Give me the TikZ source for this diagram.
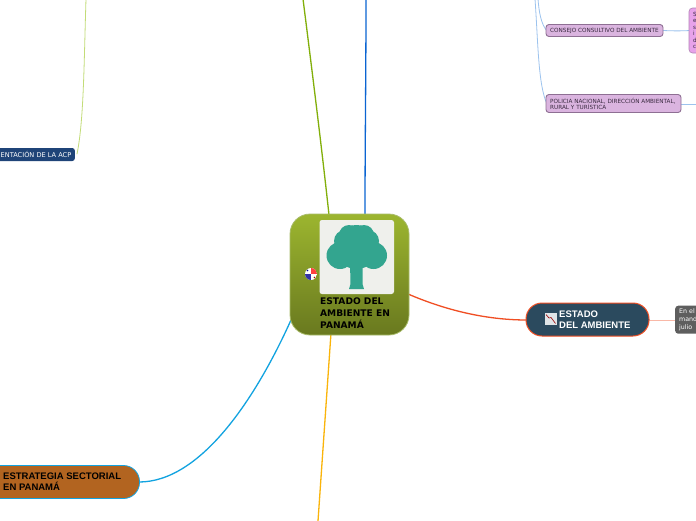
\documentclass[tikz,border=0pt]{standalone}
\usepackage{fontspec}
\setmainfont{Liberation Sans}
\newfontfamily\widefont{DejaVu Sans}
\usetikzlibrary{shadings}
\definecolor{rootTop}{HTML}{9CB52F}
\definecolor{rootBot}{HTML}{69791F}
\definecolor{rootEdge}{HTML}{A9BC6B}
\definecolor{leafTeal}{HTML}{33A58F}
\definecolor{panelBg}{HTML}{EFF0EC}
\definecolor{navy}{HTML}{2B4A5E}
\definecolor{orangeRed}{HTML}{F04E23}
\definecolor{brownBox}{HTML}{B26420}
\definecolor{skyEdge}{HTML}{12A3E0}
\definecolor{lilac}{HTML}{DAB4DF}
\definecolor{lilacEdge}{HTML}{8E6F93}
\definecolor{pinkBox}{HTML}{E7A2EA}
\definecolor{linkBlue}{HTML}{9CC3EE}
\definecolor{acpBlue}{HTML}{1F4478}
\definecolor{greyBox}{HTML}{5E5E5E}
\definecolor{plumText}{HTML}{3A2A40}
\definecolor{linkGreen}{HTML}{82AF0A}
\definecolor{linkBlueDark}{HTML}{0A64D2}
\definecolor{linkGold}{HTML}{FAB40A}
\definecolor{linkLime}{HTML}{C3DC78}
\tikzset{
 x=1pt,y=-1pt,
 link/.style={line width=#1,line cap=round},
 link/.default=1.3pt,
 lilacbox/.style={rounded corners=3pt,draw=lilacEdge,fill=lilac,line width=0.9pt},
 tinytext/.style={font=\widefont\fontsize{5.7}{6}\selectfont,text=plumText,align=left,inner sep=0pt,anchor=west},
 pilllabel/.style={font=\bfseries\fontsize{9.5}{11.3}\selectfont,align=left,inner sep=0pt,anchor=west},
 greytext/.style={font=\widefont\fontsize{6.3}{8.2}\selectfont,text=white,align=left,inner sep=0pt,anchor=north west},
}
\begin{document}
\begin{tikzpicture}
\useasboundingbox (0,0) rectangle (696,520);
\clip (0,0) rectangle (696,520);
\fill[white] (0,0) rectangle (696,520);
% free ends and attachment points
\coordinate (rootN1) at (329,215);
\coordinate (rootN2) at (365,215);
\coordinate (rootE) at (408,294);
\coordinate (rootS) at (331,333);
\coordinate (rootW) at (291,320);
\coordinate (topGreen) at (303,-1);
\coordinate (topBlue) at (366,-1);
\coordinate (bottomGold) at (318,521);
% links
\draw[link,draw=linkGreen] (rootN1) .. controls (322,150) and (312,70) .. (topGreen);
\draw[link,draw=linkBlueDark] (rootN2) .. controls (365,150) and (366,70) .. (topBlue);
\draw[link,draw=linkGold] (rootS) -- (bottomGold);
\draw[link,draw=orangeRed] (rootE) .. controls (450,312) and (490,320) .. (527,320);
\draw[link=1pt,draw=orangeRed!40] (649,320) -- (676,320);
\draw[link,draw=skyEdge] (rootW) .. controls (255,400) and (200,482) .. (139,482);
\draw[link=0.8pt,draw=linkLime] (86,-1) .. controls (84,60) and (84,120) .. (77,154);
\draw[link=0.8pt,draw=linkBlue] (538,-1) .. controls (539,12) and (541,24) .. (547,31);
\draw[link=0.8pt,draw=linkBlue] (535,-1) .. controls (538,40) and (538,85) .. (547,104);
\draw[link=0.8pt,draw=linkBlue] (663,30.5) .. controls (675,31) and (680,31) .. (690,30.5);
\draw[link=0.8pt,draw=linkBlue] (681,104) -- (697,104);
% root
\shade[top color=rootTop,bottom color=rootBot,draw=rootEdge,line width=0.8pt,rounded corners=20pt]
 (290,214) rectangle (409,335);
\fill[panelBg,rounded corners=2.5pt] (319.5,220) rectangle (394,294);
% tree
\begin{scope}[leafTeal]
\fill (349,235) circle (10);
\fill (364,235) circle (10);
\fill (356.5,247) circle (22);
\fill (345,241) circle (11);
\fill (368,241) circle (11);
\fill (340,255.5) circle (13.5);
\fill (373.5,255.5) circle (13.5);
\fill (350,262) -- (350.5,284) -- (349,289) -- (364,289) -- (362.5,284) -- (362.5,262) -- cycle;
\end{scope}
% flag
\begin{scope}
\clip (311,274) circle (6);
\fill[white] (305,268) rectangle (317,280);
\fill[red!75!white] (311,268) rectangle (317,274);
\fill[blue!55!black!80!white] (305,274) rectangle (311,280);
\fill[blue!60!black] (307.5,270.5) circle (0.8);
\fill[red!70!black] (314.5,277.5) circle (0.8);
\end{scope}
\node[font=\widefont\bfseries\fontsize{9.1}{11.6}\selectfont,text=black,align=left,inner sep=0pt,anchor=north west] (rootLabel) at (320,298) {ESTADO DEL\\AMBIENTE EN\\PANAMÁ};
% estado pill
\node[draw=orangeRed,fill=navy,line width=1pt,rounded corners=16pt,minimum width=123pt,minimum height=33pt,inner sep=0pt] (estado) at (587.5,319.5) {};
\fill[white!85!navy] (545,313) rectangle (556.5,325);
\draw[red!60!black,line width=0.6pt] (546,314.5) -- (549,318) -- (551,317.5) -- (555.5,323.5);
\node[pilllabel,text=white] (estadoLabel) at (559,319.5) {ESTADO\\DEL AMBIENTE};
% grey box
\node[fill=greyBox,rounded corners=3pt,minimum width=40pt,minimum height=28pt,inner sep=0pt,anchor=north west] (grey) at (675,305.5) {};
\node[greytext] (greyLabel) at (679,308.5) {En el\\mand\\julio};
% brown
\fill[brownBox,draw=skyEdge,line width=0.8pt,rounded corners=16pt] (-30,465.5) rectangle (139.5,498.5);
\node[pilllabel,text=black] (brown) at (3,481.5) {ESTRATEGIA SECTORIAL\\EN PANAMÁ};
% acp
\node[fill=acpBlue,rounded corners=2.5pt,minimum width=90pt,minimum height=13pt,inner sep=0pt,anchor=east] (acp) at (75,154.5) {};
\node[font=\widefont\fontsize{6.6}{7}\selectfont,text=white,inner sep=0pt,anchor=east] (acpLabel) at (71.5,154.5) {ENTACIÓN DE LA ACP};
% lilac boxes
\draw[lilacbox] (546,24.5) rectangle (663,36.5);
\node[tinytext] (consejo) at (550,30.5) {CONSEJO CONSULTIVO DEL AMBIENTE};
\draw[lilacbox] (546,94.5) rectangle (681,112.5);
\node[tinytext] (policia) at (550,103.5) {POLICIA NACIONAL, DIRECCIÓN AMBIENTAL,\\RURAL Y TURÍSTICA};
% pink
\draw[fill=pinkBox,draw=lilacEdge!60!pinkBox,rounded corners=3.5pt,line width=0.6pt] (689,8) rectangle (720,53);
\node[font=\widefont\fontsize{5.7}{6.4}\selectfont,text=plumText,align=left,inner sep=0pt,anchor=north west] (pinkLabel) at (693,12) {S\\e\\s\\i\\d\\c};
\end{tikzpicture}
\end{document}
